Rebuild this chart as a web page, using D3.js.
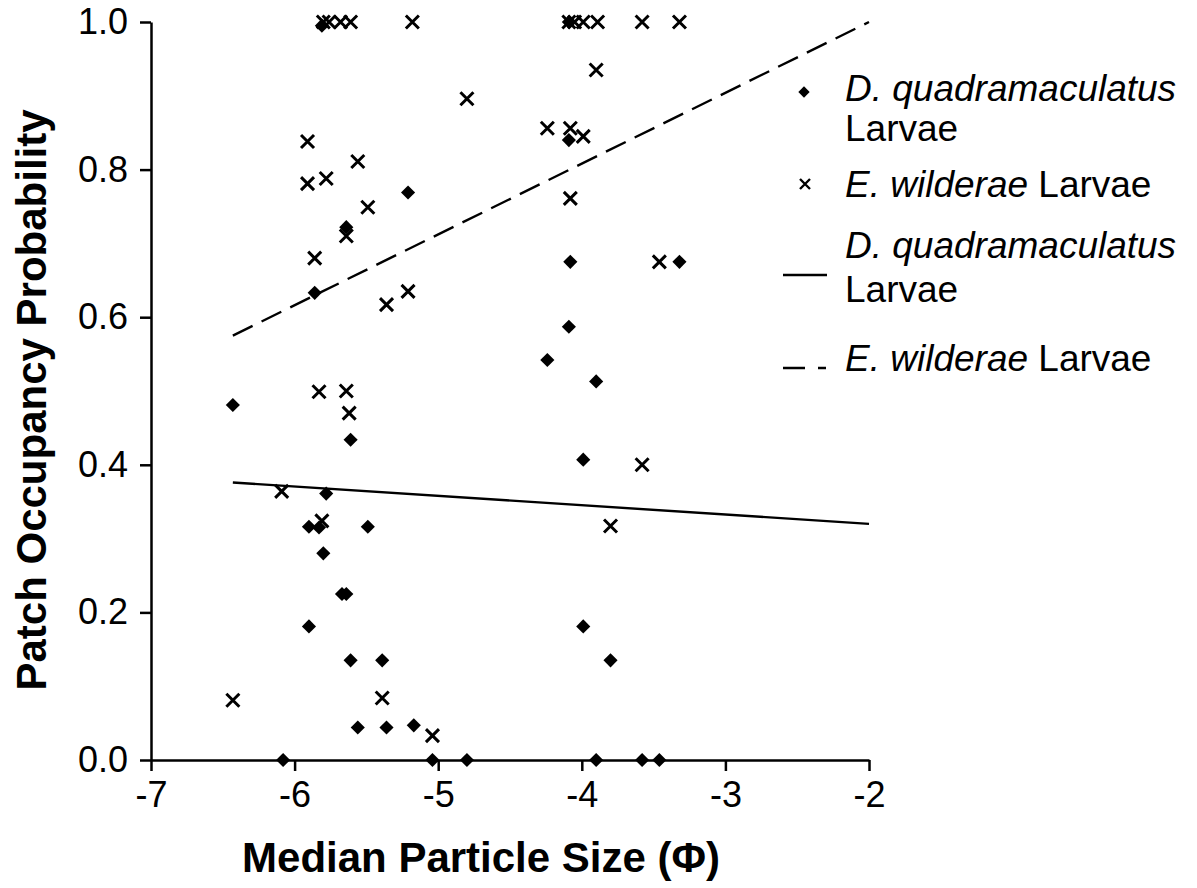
<!DOCTYPE html>
<html lang="en">
<head>
    <meta charset="UTF-8">
    <title>Patch occupancy</title>
    <style>
        body { margin: 0; background: #fff; }
        text { font-family: "Liberation Sans", Arial, sans-serif; fill: #000; }
        .axis path, .axis line { stroke: #000; stroke-width: 2.5px; }
        .axis text { font-size: 36px; }
    </style>
</head>
<body>
<div id="chart"></div>

<script src="https://d3js.org/d3.v7.min.js"></script>
<script>
    // tick labels
    var xTicks = [-7, -6, -5, -4, -3, -2];
    var yTicks = [0, 0.2, 0.4, 0.6, 0.8, 1.0];

    // D. quadramaculatus larvae (diamonds)
    var dqX = [-5.81, -4.09, -5.21, -5.64, -5.86, -4.09, -4.08, -3.32, -4.09, -4.24, -3.90, -6.43,
        -5.61, -3.99, -5.78, -5.90, -5.83, -5.49, -5.80, -5.67, -5.64, -5.90, -3.99, -5.61,
        -5.39, -3.80, -5.56, -5.36, -5.17, -6.08, -5.04, -4.80, -3.90, -3.58, -3.46];
    var dqY = [0.995, 1.0, 0.769, 0.722, 0.633, 0.840, 0.675, 0.675, 0.587, 0.542, 0.513, 0.481,
        0.434, 0.407, 0.361, 0.316, 0.315, 0.316, 0.280, 0.225, 0.225, 0.181, 0.181, 0.135,
        0.135, 0.135, 0.044, 0.044, 0.047, 0, 0, 0, 0, 0, 0];

    // E. wilderae larvae (crosses)
    var ewX = [-5.80, -5.76, -5.68, -5.61, -5.18, -4.09, -4.05, -3.99, -3.89, -3.58, -3.32,
        -4.80, -3.90, -4.24, -4.08, -3.99, -5.91, -5.56, -5.91, -5.78, -4.08, -5.49, -5.64,
        -5.86, -3.46, -5.21, -5.36, -5.83, -5.64, -5.62, -3.58, -6.09, -5.81, -3.80, -6.43,
        -5.39, -5.04];
    var ewY = [1, 1, 1, 1, 1, 1, 1, 1, 1, 1, 1,
        0.896, 0.935, 0.856, 0.856, 0.845, 0.838, 0.811, 0.781, 0.788, 0.761, 0.749, 0.710,
        0.680, 0.675, 0.635, 0.617, 0.499, 0.500, 0.470, 0.400, 0.364, 0.324, 0.317, 0.081,
        0.084, 0.033];

    // fitted lines
    var fitX = [-6.43, -2];
    var dqFit = [0.376, 0.320];
    var ewFit = [0.575, 1.0];

    var width = 1197, height = 888;

    var svg = d3.select("#chart").append("svg")
        .attr("width", width)
        .attr("height", height);

    var x = d3.scaleLinear().domain([-7, -2]).range([151, 869]);
    var y = d3.scaleLinear().domain([0, 1]).range([760, 22]);

    // axes
    svg.append("g")
        .attr("class", "axis")
        .attr("transform", "translate(0," + y(0) + ")")
        .call(d3.axisBottom(x).tickValues(xTicks).tickSize(11).tickSizeOuter(0).tickPadding(10)
            .tickFormat(function (d) { return String(d); }));

    svg.append("g")
        .attr("class", "axis")
        .attr("transform", "translate(" + x(-7) + ",0)")
        .call(d3.axisLeft(y).tickValues(yTicks).tickSize(11).tickSizeOuter(0).tickPadding(12)
            .tickFormat(d3.format(".1f")));

    svg.append("text")
        .attr("x", 481).attr("y", 872)
        .attr("text-anchor", "middle")
        .style("font-size", "42px").style("font-weight", "bold")
        .text("Median Particle Size (Φ)");

    svg.append("text")
        .attr("transform", "translate(46,400) rotate(-90)")
        .attr("text-anchor", "middle")
        .style("font-size", "42px").style("font-weight", "bold")
        .text("Patch Occupancy Probability");

    // fit lines
    var line = d3.line()
        .x(function (d) { return x(d[0]); })
        .y(function (d) { return y(d[1]); });

    svg.append("path")
        .datum(d3.zip(fitX, dqFit))
        .attr("d", line)
        .attr("fill", "none").attr("stroke", "#000").attr("stroke-width", 2.4);

    svg.append("path")
        .datum(d3.zip(fitX, ewFit))
        .attr("d", line)
        .attr("fill", "none").attr("stroke", "#000").attr("stroke-width", 2.4)
        .attr("stroke-dasharray", "22,10");

    // markers
    var diamond = d3.symbol().type(d3.symbolSquare).size(100);
    function cross(r) {
        var p = d3.path();
        p.moveTo(-r, -r); p.lineTo(r, r);
        p.moveTo(-r, r); p.lineTo(r, -r);
        return p.toString();
    }

    svg.append("g").selectAll("path")
        .data(d3.zip(ewX, ewY))
        .enter().append("path")
        .attr("d", cross(6.5))
        .attr("transform", function (d) { return "translate(" + x(d[0]) + "," + y(d[1]) + ")"; })
        .attr("fill", "none").attr("stroke", "#000").attr("stroke-width", 3);

    svg.append("g").selectAll("path")
        .data(d3.zip(dqX, dqY))
        .enter().append("path")
        .attr("d", diamond)
        .attr("transform", function (d) { return "translate(" + x(d[0]) + "," + y(d[1]) + ") rotate(45)"; })
        .attr("fill", "#000");

    // legend
    var legend = svg.append("g").style("font-size", "37px");

    function label(yPos, italic, rest) {
        var t = legend.append("text").attr("x", 845).attr("y", yPos);
        t.append("tspan").style("font-style", "italic").text(italic);
        if (rest) t.append("tspan").text(rest);
    }

    legend.append("path")
        .attr("d", d3.symbol().type(d3.symbolSquare).size(64))
        .attr("transform", "translate(804,92) rotate(45)");
    label(101, "D. quadramaculatus");
    label(141, "", "Larvae");

    legend.append("path")
        .attr("d", cross(5))
        .attr("transform", "translate(805,184)")
        .attr("fill", "none").attr("stroke", "#000").attr("stroke-width", 2.4);
    label(197, "E. wilderae", " Larvae");

    legend.append("line")
        .attr("x1", 783).attr("x2", 827).attr("y1", 275).attr("y2", 275)
        .attr("stroke", "#000").attr("stroke-width", 2.4);
    label(258, "D. quadramaculatus");
    label(302, "", "Larvae");

    legend.append("line")
        .attr("x1", 783).attr("x2", 826).attr("y1", 368).attr("y2", 368)
        .attr("stroke", "#000").attr("stroke-width", 2.4)
        .attr("stroke-dasharray", "22,13");
    label(371, "E. wilderae", " Larvae");
</script>
</body>
</html>
